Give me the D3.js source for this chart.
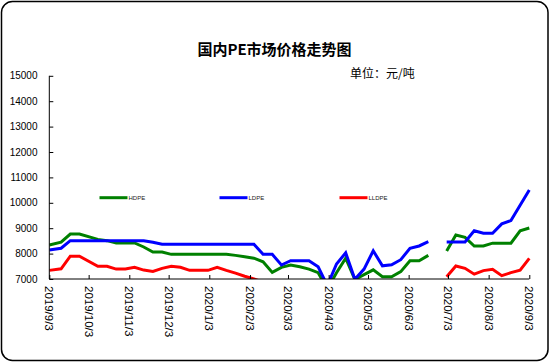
<!DOCTYPE html>
<html>
<head>
<meta charset="utf-8">
<script src="https://cdn.jsdelivr.net/npm/d3@7"></script>
<style>
  html, body { margin: 0; padding: 0; background: #fff; }
  svg { display: block; }
</style>
</head>
<body>
<svg id="chart" width="550" height="364"></svg>
<script>
const dates = [
  "2019-09-03","2019-09-12","2019-09-19","2019-09-26","2019-10-10","2019-10-17","2019-10-24","2019-10-31",
  "2019-11-07","2019-11-14","2019-11-21","2019-11-28","2019-12-05","2019-12-12","2019-12-19","2019-12-26",
  "2020-01-02","2020-01-09","2020-01-16","2020-01-23","2020-01-30","2020-02-06","2020-02-13","2020-02-20",
  "2020-02-27","2020-03-05","2020-03-12","2020-03-19","2020-03-26","2020-04-02","2020-04-09","2020-04-16",
  "2020-04-23","2020-04-30","2020-05-07","2020-05-14","2020-05-21","2020-05-28","2020-06-04","2020-06-11",
  "2020-06-18","2020-06-25","2020-07-02","2020-07-09","2020-07-16","2020-07-23","2020-07-30","2020-08-06",
  "2020-08-13","2020-08-20","2020-08-27","2020-09-03"
];
const hdpe = [
  8340,8450,8770,8770,8560,8510,8420,8420,
  8420,8260,8060,8060,7970,7970,7970,7970,
  7970,7970,7970,7930,7880,7820,7680,7260,
  7460,7550,7480,7390,7250,6600,7250,7820,
  6980,7170,7360,7090,7090,7290,7720,7720,
  7930,null,8100,8730,8640,8300,8300,8410,
  8410,8410,8900,9010
];
const ldpe = [
  8140,8210,8510,8510,8510,8510,8510,8510,
  8510,8510,8450,8370,8370,8370,8370,8370,
  8370,8370,8370,8370,8370,8370,7970,7970,
  7550,7720,7720,7720,7480,6740,7590,8030,
  6990,7390,8110,7520,7560,7760,8210,8300,
  8470,null,8460,8460,8460,8900,8800,8800,
  9170,9300,9900,10500
];
const lldpe = [
  7340,7400,7900,7900,7500,7500,7390,7390,
  7460,7350,7300,7420,7500,7460,7340,7340,
  7340,7460,7340,7230,7110,7000,6880,null,
  null,null,null,null,null,null,null,null,
  null,null,null,null,null,null,null,null,
  null,null,7090,7510,7420,7190,7330,7380,
  7130,7250,7350,7810
];
const seriesNames = ["HDPE","LDPE","LLDPE"];
const seriesColors = ["#008000","#0000ff","#ff0000"];
const yTicks = [7000,8000,9000,10000,11000,12000,13000,14000,15000];
const xTickDates = ["2019-09-03","2019-10-03","2019-11-03","2019-12-03","2020-01-03","2020-02-03",
  "2020-03-03","2020-04-03","2020-05-03","2020-06-03","2020-07-03","2020-08-03","2020-09-03"];
const xTickLabels = ["2019/9/3","2019/10/3","2019/11/3","2019/12/3","2020/1/3","2020/2/3",
  "2020/3/3","2020/4/3","2020/5/3","2020/6/3","2020/7/3","2020/8/3","2020/9/3"];
const titleText = "国内PE市场价格走势图";
const unitText = "单位：元/吨";

const svg = d3.select("#chart");
const parse = d3.utcParse("%Y-%m-%d");
const X0 = 49.3, X1 = 529.3, Y0 = 279, Y1 = 75.8;

const x = d3.scaleUtc().domain([parse("2019-09-03"), parse("2020-09-03")]).range([X0, X1]);
const y = d3.scaleLinear().domain([7000, 15000]).range([Y0, Y1]);

// outer frame
svg.append("rect").attr("x", 1.5).attr("y", 1.5).attr("width", 546.5).attr("height", 359)
  .attr("rx", 11).attr("ry", 11).attr("fill", "#fff").attr("stroke", "#000").attr("stroke-width", 1.5);

// title
svg.append("text").attr("x", 274.5).attr("y", 55).attr("text-anchor", "middle")
  .attr("font-family", "'Noto Sans CJK SC', sans-serif").attr("font-weight", "bold")
  .attr("font-size", 15).attr("fill", "#000").text(titleText);
svg.append("text").attr("x", 350).attr("y", 77.5)
  .attr("font-family", "'Noto Sans CJK SC', sans-serif")
  .attr("font-size", 12).attr("fill", "#000").text(unitText);

// clip
svg.append("defs").append("clipPath").attr("id", "plotclip")
  .append("rect").attr("x", X0).attr("y", Y1 - 2).attr("width", X1 - X0 + 2).attr("height", Y0 - Y1 + 2);

// lines
const allSeries = [hdpe, ldpe, lldpe];
const line = d3.line()
  .defined(d => d.v !== null)
  .x(d => x(d.t)).y(d => y(d.v));
const g = svg.append("g").attr("clip-path", "url(#plotclip)");
allSeries.forEach((vals, i) => {
  const data = dates.map((d, j) => ({ t: parse(d), v: vals[j] }));
  g.append("path").datum(data).attr("d", line)
    .attr("fill", "none").attr("stroke", seriesColors[i]).attr("stroke-width", 3)
    .attr("stroke-linejoin", "miter");
});

// y axis
const yAxis = d3.axisRight(y).tickValues(yTicks).tickSize(4).tickFormat("");
const yg = svg.append("g").attr("transform", `translate(${X0},0)`).call(yAxis);
yg.select(".domain").remove();
yg.append("line").attr("x1", 0).attr("x2", 0).attr("y1", Y1).attr("y2", Y0).attr("stroke", "#000");
yg.selectAll(".tick line").attr("stroke", "#000");
svg.append("g").selectAll("text").data(yTicks).join("text")
  .attr("x", 37.5).attr("y", d => y(d)).attr("dy", "0.35em").attr("text-anchor", "end")
  .attr("font-family", "'Liberation Sans', Arial, sans-serif").attr("font-size", 10).attr("fill", "#000")
  .text(d => d);

// x axis
const xAxis = d3.axisTop(x).tickValues(xTickDates.map(parse)).tickSize(4).tickFormat("");
const xg = svg.append("g").attr("transform", `translate(0,${Y0})`).call(xAxis);
xg.select(".domain").remove();
xg.append("line").attr("x1", X0).attr("x2", X1).attr("y1", 0).attr("y2", 0).attr("stroke", "#000");
xg.selectAll(".tick line").attr("stroke", "#000");
svg.append("g").selectAll("text").data(xTickDates).join("text")
  .attr("transform", (d) => `translate(${x(parse(d))},286) rotate(90)`)
  .attr("dy", "0.35em").attr("text-anchor", "start")
  .attr("font-family", "'Liberation Sans', Arial, sans-serif").attr("font-size", 11.5).attr("fill", "#000")
  .text((d, i) => xTickLabels[i]);

// legend
const legendX = [99.5, 219.5, 339.5];
const legendY = 197.7;
seriesNames.forEach((n, i) => {
  svg.append("line").attr("x1", legendX[i]).attr("x2", legendX[i] + 28)
    .attr("y1", legendY).attr("y2", legendY)
    .attr("stroke", seriesColors[i]).attr("stroke-width", 3);
  svg.append("text").attr("x", legendX[i] + 29).attr("y", legendY).attr("dy", "0.35em")
    .attr("font-family", "'Liberation Sans', Arial, sans-serif").attr("font-size", 6)
    .attr("fill", "#222").text(n);
});
</script>
</body>
</html>
